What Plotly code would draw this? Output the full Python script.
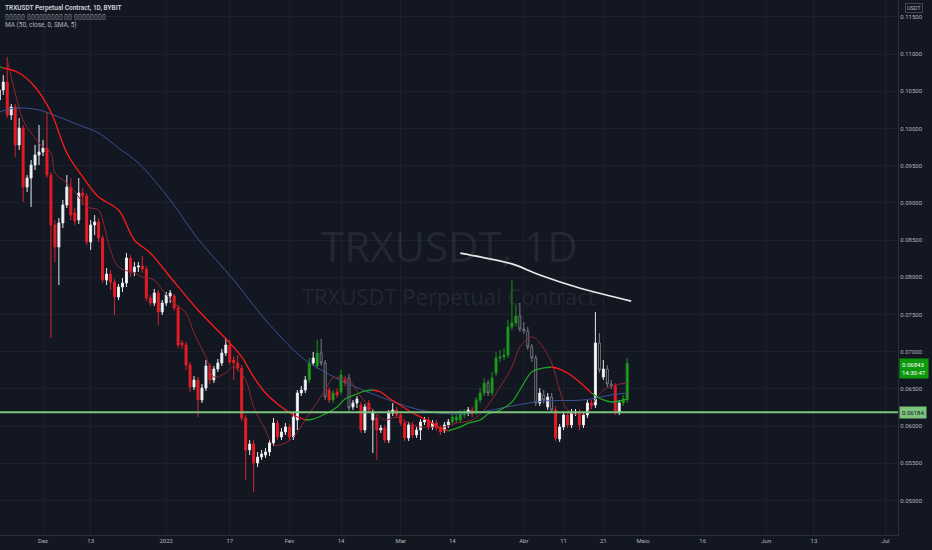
import pandas as pd
import plotly.graph_objects as go

# daily candles TRXUSDT, 2021-11-20 .. 2022-04-27
dates = pd.date_range("2021-11-20", "2022-04-27", freq="D")

opens = [
    .10382, .10516, .10624, .10180, .10288, .09777, .10006, .09212, .09333, .09508,
    .09643, .09683, .09737, .09374, .08702, .08406, .08729, .08971, .09212, .08863,
    .08769, .09132, .09092, .08473, .08702, .08742, .08527, .07962, .08043, .07936,
    .07734, .07868, .07922, .08258, .08070, .08137, .08151, .08110, .07721, .07653,
    .07788, .07532, .07653, .07747, .07747, .07586, .07116, .07089, .06820, .06524,
    .06618, .06350, .06511, .06807, .06618, .06766, .06847, .06981, .07089, .06887,
    .06847, .06780, .06108, .05678, .05758, .05503, .05583, .05610, .05651, .05772,
    .06040, .05852, .05920, .05987, .05852, .06081, .06444, .06484, .06618, .06847,
    .06807, .06981, .06847, .06484, .06350, .06457, .06457, .06618, .06645, .06256,
    .06309, .06282, .05946, .06309, .06081, .06108, .05946, .05973, .05812, .06175,
    .06215, .06148, .06040, .05839, .06014, .05879, .05946, .06054, .06081, .05987,
    .06040, .05973, .05946, .06014, .06054, .06081, .06081, .06148, .06175, .06215,
    .06188, .06350, .06444, .06578, .06444, .06713, .06914, .06928, .06954, .07331,
    .07385, .07479, .07304, .07277, .07062, .06914, .06309, .06417, .06256, .06390,
    .06215, .05825, .05987, .06148, .06014, .06175, .06188, .06014, .06148, .06309,
    .06282, .07116, .06659, .06766, .06565, .06538, .06188, .06309, .06350,
]
highs = [
    .10570, .10718, .10960, .10328, .10328, .10140, .10046, .09374, .09575, .09777,
    .10046, .09844, .10221, .09414, .08769, .08796, .09038, .09374, .09333, .08930,
    .09333, .09199, .09132, .08769, .08836, .08796, .08567, .08124, .08097, .07976,
    .07909, .07989, .08325, .08299, .08204, .08204, .08285, .08151, .07761, .07842,
    .07828, .07694, .07801, .07828, .07774, .07626, .07156, .07129, .06860, .06672,
    .06659, .06565, .06887, .06847, .06807, .06901, .07035, .07183, .07156, .06941,
    .06954, .06820, .06148, .05812, .05812, .05651, .05678, .05704, .05812, .06108,
    .06081, .05973, .06040, .06027, .06175, .06484, .06538, .06672, .06914, .06995,
    .07156, .07170, .06887, .06524, .06484, .06511, .06753, .06672, .06699, .06350,
    .06403, .06323, .06296, .06350, .06229, .06148, .06014, .06014, .06215, .06309,
    .06256, .06188, .06081, .06054, .06054, .05987, .06094, .06121, .06121, .06081,
    .06081, .06014, .06054, .06094, .06161, .06161, .06215, .06229, .06256, .06256,
    .06390, .06511, .06645, .06618, .06726, .06995, .07022, .07049, .07425, .07962,
    .07626, .07653, .07398, .07331, .07102, .06954, .06511, .06484, .06444, .06444,
    .06269, .06027, .06188, .06188, .06229, .06229, .06229, .06188, .06350, .06350,
    .07532, .07250, .06887, .06820, .06618, .06578, .06350, .06417, .06914,
]
lows = [
    .10328, .10449, .10140, .10113, .09616, .09710, .09011, .09145, .08944, .09441,
    .09508, .09629, .09333, .07183, .08204, .07895, .08661, .08930, .08769, .08702,
    .08715, .08971, .08433, .08366, .08567, .08473, .07922, .07895, .07828, .07492,
    .07694, .07801, .07868, .08003, .08016, .08070, .08057, .07680, .07613, .07613,
    .07358, .07492, .07613, .07653, .07546, .07049, .07035, .06753, .06457, .06484,
    .06121, .06309, .06471, .06565, .06578, .06726, .06807, .06941, .06820, .06618,
    .06739, .06067, .05274, .05610, .05113, .05449, .05543, .05570, .05597, .05731,
    .05812, .05812, .05879, .05798, .05812, .05946, .06403, .06444, .06578, .06807,
    .06766, .06807, .06350, .06309, .06309, .06376, .06417, .06538, .06202, .06215,
    .06242, .05906, .05906, .06175, .05637, .05543, .05906, .05772, .05772, .06135,
    .06108, .06000, .05798, .05798, .05839, .05839, .05812, .06014, .05946, .05946,
    .05933, .05879, .05906, .05973, .06014, .06040, .06040, .06108, .06135, .06121,
    .06148, .06309, .06403, .06403, .06403, .06672, .06860, .06887, .06914, .07290,
    .07344, .07264, .07237, .07022, .06860, .06269, .06269, .06296, .06215, .06175,
    .05798, .05785, .05946, .05973, .05973, .06135, .05946, .05973, .06108, .06229,
    .06242, .06713, .06618, .06524, .06497, .06148, .06148, .06269, .06309,
]
closes = [
    .10516, .10624, .10180, .10288, .09777, .10006, .09212, .09333, .09508, .09643,
    .09683, .09737, .09374, .08702, .08406, .08729, .08971, .09212, .08836, .08756,
    .09132, .09092, .08473, .08702, .08742, .08527, .07962, .08043, .07936, .07734,
    .07868, .07922, .08258, .08070, .08137, .08151, .08110, .07721, .07653, .07788,
    .07532, .07653, .07761, .07788, .07586, .07089, .07089, .06820, .06524, .06618,
    .06350, .06511, .06807, .06618, .06766, .06847, .06981, .07089, .06860, .06847,
    .06780, .06108, .05678, .05758, .05503, .05583, .05624, .05651, .05772, .06040,
    .05852, .05920, .05987, .05852, .06121, .06444, .06484, .06618, .06847, .06914,
    .06981, .06847, .06390, .06350, .06444, .06417, .06686, .06578, .06242, .06309,
    .06363, .05946, .06256, .06215, .06188, .05946, .05973, .05812, .06175, .06215,
    .06148, .06040, .05839, .06014, .05879, .05946, .06054, .06081, .05987, .06040,
    .05973, .05920, .06014, .06054, .06121, .06121, .06175, .06188, .06215, .06161,
    .06350, .06444, .06578, .06444, .06645, .06914, .06928, .06954, .07331, .07385,
    .07479, .07304, .07277, .07062, .06914, .06309, .06444, .06350, .06390, .06215,
    .05839, .05987, .06148, .06014, .06175, .06188, .06014, .06148, .06309, .06269,
    .07116, .06753, .06766, .06565, .06538, .06188, .06309, .06363, .06843,
]
# bar colouring from the chart: w white, r red, g green, d dark
bar_kind = (
    "wwrwrwrwww" "wwrrrwwwrr" "wrrwwrrwrr" "wwwrwwrrrw" "rwwwrrrrrw"
    "rwwrwwwwrr" "rrrwrwwwww" "rwwrwwwwgw" "gddrgrgrdw" "wrwrwrwrww"
    "rrrwrwwwrw" "rrwwggggwr" "gggdgggggg" "gdddddwdwd" "rwwrwwrwwr"
    "wdwddrwgg"
)

# coloured MA (green / red)
ma_dates = ["2021-11-20", "2021-11-21", "2021-11-25", "2021-11-29", "2021-12-03", "2021-12-07",
            "2021-12-11", "2021-12-15", "2021-12-20", "2021-12-24", "2021-12-28", "2022-01-02",
            "2022-01-09", "2022-01-17", "2022-01-20", "2022-01-23", "2022-01-26", "2022-01-30",
            "2022-02-02", "2022-02-05", "2022-02-07", "2022-02-10", "2022-02-13", "2022-02-15",
            "2022-02-18", "2022-02-20", "2022-02-22", "2022-02-24", "2022-02-26", "2022-02-28",
            "2022-03-02", "2022-03-04", "2022-03-06", "2022-03-08", "2022-03-11", "2022-03-13",
            "2022-03-16", "2022-03-18", "2022-03-21", "2022-03-23", "2022-03-26", "2022-03-29",
            "2022-03-31", "2022-04-03", "2022-04-06", "2022-04-08", "2022-04-10", "2022-04-12",
            "2022-04-15", "2022-04-18", "2022-04-21", "2022-04-23", "2022-04-25", "2022-04-27"]
ma_vals = [.10830, .10812, .10745, .10557, .10221, .09670,
           .09347, .09078, .08903, .08500, .08325, .08003,
           .07559, .07116, .06928, .06659, .06444, .06256,
           .06148, .06081, .06094, .06161, .06256, .06363,
           .06430, .06471, .06484, .06457, .06376, .06309,
           .06242, .06175, .06121, .06067, .05973, .05933,
           .05987, .06040, .06081, .06161, .06215, .06323,
           .06484, .06726, .06780, .06793, .06766, .06713,
           .06592, .06444, .06350, .06323, .06336, .06363]
ma_turns = ["2021-11-21", "2022-02-05", "2022-02-22", "2022-03-13", "2022-04-08", "2022-04-18"]

# short MA (thin dark red)
fast_dates = ["2021-11-22", "2021-11-24", "2021-11-26", "2021-11-28", "2021-12-01", "2021-12-03",
              "2021-12-04", "2021-12-07", "2021-12-10", "2021-12-12", "2021-12-15", "2021-12-16",
              "2021-12-18", "2021-12-20", "2021-12-24", "2021-12-26", "2021-12-29", "2021-12-31",
              "2022-01-03", "2022-01-06", "2022-01-08", "2022-01-11", "2022-01-13", "2022-01-16",
              "2022-01-18", "2022-01-21", "2022-01-23", "2022-01-26", "2022-01-28", "2022-01-31",
              "2022-02-02", "2022-02-05", "2022-02-07", "2022-02-10", "2022-02-12", "2022-02-14",
              "2022-02-16", "2022-02-19", "2022-02-22", "2022-02-25", "2022-02-28", "2022-03-03",
              "2022-03-06", "2022-03-09", "2022-03-12", "2022-03-15", "2022-03-19", "2022-03-22",
              "2022-03-26", "2022-03-29", "2022-03-31", "2022-04-03", "2022-04-05", "2022-04-08",
              "2022-04-10", "2022-04-12", "2022-04-15", "2022-04-17", "2022-04-19", "2022-04-21",
              "2022-04-24", "2022-04-27"]
fast_vals = [.10920, .10476, .10113, .09938, .09750, .09670,
             .09401, .09266, .09078, .08944, .08903, .08769,
             .08366, .08137, .08057, .08003, .07962, .07828,
             .07653, .07519, .07250, .06928, .06659, .06713,
             .06793, .06618, .06256, .05946, .05745, .05772,
             .05852, .06081, .06242, .06484, .06645, .06645,
             .06618, .06390, .06215, .06081, .06121, .06040,
             .05987, .05987, .05987, .06040, .06081, .06215,
             .06524, .06793, .07062, .07196, .07116, .06847,
             .06484, .06215, .06148, .06188, .06350, .06484,
             .06551, .06578]

# MA (50, close, 0, SMA, 5) - blue
slow_dates = ["2021-11-20", "2021-11-24", "2021-11-30", "2021-12-05", "2021-12-10", "2021-12-15",
              "2021-12-20", "2021-12-25", "2022-01-02", "2022-01-09", "2022-01-18", "2022-01-26",
              "2022-02-04", "2022-02-09", "2022-02-17", "2022-02-26", "2022-03-06", "2022-03-14",
              "2022-03-21", "2022-03-29", "2022-04-06", "2022-04-16", "2022-04-23", "2022-04-27"]
slow_vals = [.10221, .10274, .10248, .10153, .10046, .09938,
             .09737, .09535, .09038, .08514, .07962, .07425,
             .06928, .06753, .06538, .06350, .06215, .06161,
             .06188, .06269, .06336, .06350, .06417, .06444]

# hand drawn line
draw_dates = ["2022-03-16", "2022-03-21", "2022-03-29", "2022-04-05", "2022-04-15", "2022-04-28"]
draw_vals = [.08325, .08272, .08178, .08030, .07855, .07680]

hline_price = 0.06184
last_price = 0.06843
countdown = "14:30:47"

x_tick_dates = ["2021-12-01", "2021-12-13", "2022-01-01", "2022-01-17", "2022-02-01", "2022-02-14",
                "2022-03-01", "2022-03-14", "2022-04-01", "2022-04-11", "2022-04-21", "2022-05-01",
                "2022-05-16", "2022-06-01", "2022-06-13", "2022-07-01"]
x_tick_text = ["Dez", "13", "2022", "17", "Fev", "14", "Mar", "14", "Abr", "11", "21", "Maio",
               "16", "Jun", "13", "Jul"]
y_ticks = [0.050, 0.055, 0.060, 0.065, 0.070, 0.075, 0.080, 0.085, 0.090, 0.095, 0.100,
           0.105, 0.110, 0.115]

BG = "#131722"
GRID = "#1c202b"
TXT = "#b2b5be"
FONT = "Roboto"

styles = {
    "w": dict(line="#e6e8ee", fill="#ffffff"),
    "r": dict(line="#d8222c", fill="#ff1111"),
    "g": dict(line="#1c901c", fill="#1fa51f"),
    "d": dict(line="#787b86", fill="#000000"),
}

fig = go.Figure()

for kind, st in styles.items():
    idx = [i for i, k in enumerate(bar_kind) if k == kind]
    side = dict(line=dict(color=st["line"], width=1), fillcolor=st["fill"])
    fig.add_trace(go.Candlestick(
        x=[dates[i] for i in idx],
        open=[opens[i] for i in idx], high=[highs[i] for i in idx],
        low=[lows[i] for i in idx], close=[closes[i] for i in idx],
        increasing=side, decreasing=side, whiskerwidth=0, showlegend=False,
        hoverinfo="skip",
    ))

fig.add_trace(go.Scatter(x=slow_dates, y=slow_vals, mode="lines",
                         line=dict(color="#3b5193", width=1, shape="spline"),
                         showlegend=False, hoverinfo="skip"))
fig.add_trace(go.Scatter(x=fast_dates, y=fast_vals, mode="lines",
                         line=dict(color="#8f2434", width=1, shape="spline"),
                         showlegend=False, hoverinfo="skip"))

# split the coloured MA into rising / falling pieces
seg_x, seg_y, up = [], [], True
for d, v in zip(ma_dates, ma_vals):
    seg_x.append(d)
    seg_y.append(v)
    if d in ma_turns:
        fig.add_trace(go.Scatter(x=seg_x, y=seg_y, mode="lines",
                                 line=dict(color="#21a321" if up else "#ff1a1a", width=1.3, shape="spline"),
                                 showlegend=False, hoverinfo="skip"))
        seg_x, seg_y, up = [d], [v], not up
fig.add_trace(go.Scatter(x=seg_x, y=seg_y, mode="lines",
                         line=dict(color="#21a321" if up else "#ff1a1a", width=1.3, shape="spline"),
                         showlegend=False, hoverinfo="skip"))

fig.add_trace(go.Scatter(x=draw_dates, y=draw_vals, mode="lines",
                         line=dict(color="#e8e8e8", width=1.8, shape="spline"),
                         showlegend=False, hoverinfo="skip"))

fig.add_shape(type="line", xref="paper", x0=0, x1=1, yref="y", y0=hline_price, y1=hline_price,
              line=dict(color="#7cc47c", width=2), layer="above")

wm = "rgba(150,155,170,0.13)"
fig.add_annotation(text="TRXUSDT, 1D", xref="paper", yref="paper", x=0.5, y=0.542,
                   showarrow=False, font=dict(family="Open Sans", size=42, color=wm))
fig.add_annotation(text="TRXUSDT Perpetual Contract", xref="paper", yref="paper", x=0.5, y=0.447,
                   showarrow=False, font=dict(family="Open Sans", size=22, color=wm))

legend_lines = [
    ("TRXUSDT Perpetual Contract, 1D, BYBIT", "#d1d4dc", 0.985, 600),
    ("▯▯▯▯▯ ▯▯▯▯▯▯▯▯▯ ▯▯ ▯▯▯▯▯▯▯▯", "#b2b5be", 0.968, 400),
    ("MA (50, close, 0, SMA, 5)", "#b2b5be", 0.953, 400),
]
for txt, col, yy, wt in legend_lines:
    fig.add_annotation(text=txt, xref="paper", yref="paper", x=0, xshift=3, y=yy,
                       xanchor="left", yanchor="middle", showarrow=False,
                       font=dict(family=FONT, size=6.5, color=col, weight=wt))

fig.add_annotation(text="USDT", xref="paper", yref="paper", x=1, xshift=7, y=1, yshift=-3,
                   xanchor="left", yanchor="top", showarrow=False, bordercolor="#434651",
                   borderwidth=1, borderpad=1, font=dict(family=FONT, size=5.5, color=TXT))
fig.add_annotation(text=f"{last_price:.5f}<br>{countdown}", xref="paper", yref="y", x=1, xshift=1,
                   y=last_price, yshift=5, xanchor="left", yanchor="top", showarrow=False,
                   align="left", bgcolor="#0c9a0c", borderpad=2,
                   font=dict(family=FONT, size=6, color="#ffffff"))
fig.add_annotation(text=f"{hline_price:.5f}", xref="paper", yref="y", x=1, xshift=1,
                   y=hline_price, xanchor="left", yanchor="middle", showarrow=False,
                   bgcolor="#7cc47c", borderpad=2, font=dict(family=FONT, size=6, color="#131722"))

fig.update_layout(
    width=932, height=550,
    margin=dict(l=0, r=34, t=0, b=15),
    paper_bgcolor=BG, plot_bgcolor=BG,
    font=dict(family=FONT, size=6, color=TXT),
    showlegend=False,
    xaxis=dict(
        type="date", range=["2021-11-20 04:19", "2022-07-04 03:36"],
        rangeslider=dict(visible=False),
        tickmode="array", tickvals=x_tick_dates, ticktext=x_tick_text,
        showgrid=True, gridcolor=GRID, gridwidth=1, zeroline=False,
        showline=True, linecolor="#2a2e39", linewidth=1, ticks="",
        tickfont=dict(family=FONT, size=6, color=TXT),
    ),
    yaxis=dict(
        side="right", range=[0.04535, 0.11726],
        tickmode="array", tickvals=y_ticks, ticktext=[f"{v:.5f}" for v in y_ticks],
        showgrid=True, gridcolor=GRID, gridwidth=1, zeroline=False,
        showline=True, linecolor="#2a2e39", linewidth=1, ticks="",
        tickfont=dict(family=FONT, size=6, color=TXT),
    ),
)

fig.write_html("out.html", config={"displayModeBar": False},
               post_script="document.body.style.margin='0';document.body.style.background='#131722';")
